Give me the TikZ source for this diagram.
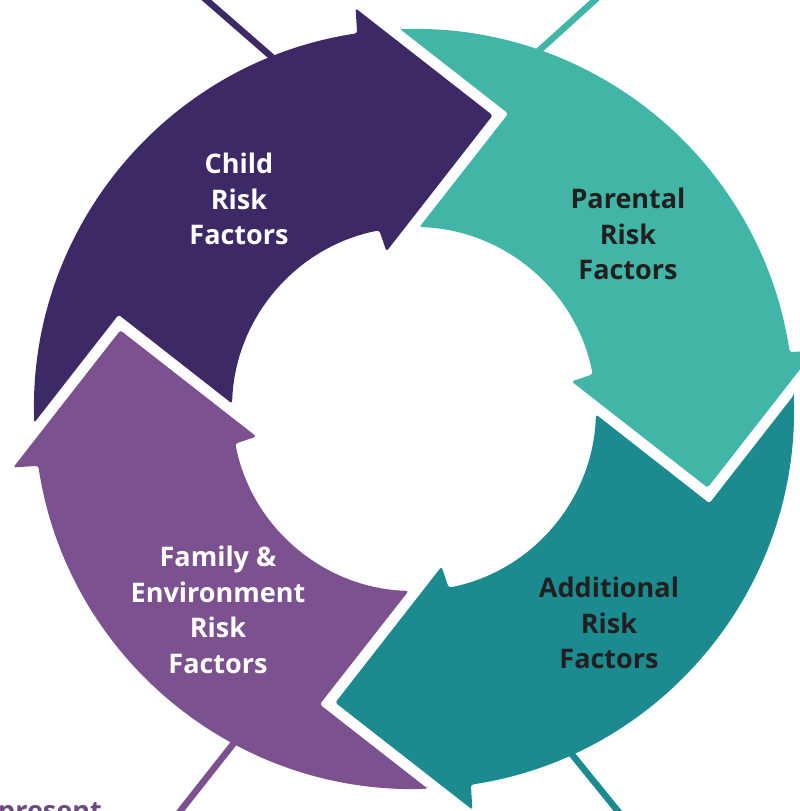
\documentclass[tikz,border=0pt]{standalone}
\usepackage{fontspec}
\setmainfont{Open Sans}
\definecolor{childcol}{HTML}{3D2966}
\definecolor{parentcol}{HTML}{42B6A6}
\definecolor{addcol}{HTML}{1B8B8F}
\definecolor{familycol}{HTML}{7B518F}
\definecolor{inkcol}{HTML}{231F20}
\definecolor{notecol}{HTML}{6B4A82}

% One curved arrow of the cycle, drawn for the upper-left quadrant;
% the other three are the same outline turned by multiples of 90 degrees.
\newcommand\cyclearrow[2]{%
  \fill[#2, rotate=#1, rounded corners=2.5pt]
    (182.07:380) -- (162.3:310.1) -- (178.3:182)
    arc[start angle=178.3, end angle=101, radius=182pt]
    -- (99.9:160) -- (75:304) -- (98.3:405) -- (98.6:380)
    arc[start angle=98.6, end angle=182.07, radius=380pt] -- cycle;}

\tikzset{
  lbl/.style={align=center, font=\fontsize{27}{35.5}\selectfont\bfseries, inner sep=0pt},
  spoke/.style={line width=6.5pt},
}

\begin{document}
\begin{tikzpicture}[x=1pt, y=1pt]
  \useasboundingbox (-414,-402) rectangle (386,409);

  % spokes leading out of the figure, partly hidden by the ring
  \coordinate (tlIn) at (-94,310);   \coordinate (tlOut) at (-219,419);
  \coordinate (trIn) at (86,323);    \coordinate (trOut) at (192,419);
  \coordinate (blIn) at (-154,-301); \coordinate (blOut) at (-244,-415);
  \coordinate (brIn) at (126,-306);  \coordinate (brOut) at (216,-417);
  \draw[spoke, childcol]  (tlIn) -- (tlOut);
  \draw[spoke, parentcol] (trIn) -- (trOut);
  \draw[spoke, familycol] (blIn) -- (blOut);
  \draw[spoke, addcol]    (brIn) -- (brOut);

  % the four arrows of the cycle
  \cyclearrow{0}{childcol}
  \cyclearrow{-90}{parentcol}
  \cyclearrow{-180}{addcol}
  \cyclearrow{90}{familycol}

  % labels
  \node[lbl, text=white]  (child)  at (-175,210)  {Child\\Risk\\Factors};
  \node[lbl, text=inkcol] (parent) at (214,175)   {Parental\\Risk\\Factors};
  \node[lbl, text=inkcol] (addit)  at (195,-214)  {Additional\\Risk\\Factors};
  \node[lbl, text=white]  (family) at (-196,-201) {Family \&\\Environment\\Risk\\Factors};

  \node[font=\fontsize{27}{32}\selectfont\bfseries, text=notecol, anchor=base west, inner sep=0pt]
    (note) at (-416,-411) {present};
\end{tikzpicture}
\end{document}
